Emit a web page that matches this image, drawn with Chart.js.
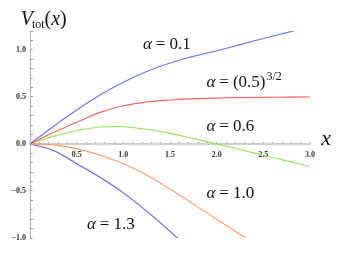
<!DOCTYPE html>
<html>
<head>
<meta charset="utf-8">
<script src="https://cdn.jsdelivr.net/npm/chart.js@4/dist/chart.umd.min.js"></script>
<style>
  html, body { margin: 0; padding: 0; background: #fff; }
  #wrap { width: 350px; height: 263px; position: relative; }
</style>
</head>
<body>
<div id="wrap"><canvas id="chart"></canvas></div>
<script>
  const xValues = [0, 0.25, 0.5, 0.75, 1, 1.25, 1.5, 1.75, 2, 2.25, 2.5, 2.75, 3];
  const alpha01 = [0, 0.185, 0.36, 0.52, 0.655, 0.77, 0.86, 0.93, 0.99, 1.055, 1.12, 1.183, 1.245];
  const alpha035 = [0, 0.12, 0.23, 0.335, 0.405, 0.445, 0.466, 0.479, 0.487, 0.492, 0.495, 0.497, 0.498];
  const alpha06 = [0, 0.08, 0.14, 0.18, 0.182, 0.155, 0.112, 0.058, 0, -0.06, -0.12, -0.18, -0.24];
  const alpha10 = [0, -0.01, -0.05, -0.12, -0.21, -0.33, -0.48, -0.64, -0.8, -0.96, -1.12, null, null];
  const alpha13 = [0, -0.07, -0.21, -0.355, -0.52, -0.715, -0.93, -1.16, null, null, null, null, null];

  const seriesNames = ['α = 0.1', 'α = (0.5)^{3/2}', 'α = 0.6', 'α = 1.0', 'α = 1.3'];
  const seriesColors = ['#6e6eff', '#ff5f5f', '#8ee84a', '#ff9a5c', '#6a52ee'];

  const xRange = [0, 3];
  const yRange = [-1, 1.2];

  function toPoints(values) {
    return values.map((v, i) => ({ x: xValues[i], y: v }));
  }

  function isHalf(v) {
    return Math.abs(v * 2 - Math.round(v * 2)) < 1e-6;
  }

  function fmt(v) {
    const s = Math.abs(v).toFixed(1);
    return v < -1e-9 ? '\u2212' + s : s;
  }

  const serif = "'Liberation Serif'";

  function drawRuns(ctx, x, y, runs) {
    runs.forEach((r) => {
      ctx.font = (r.italic ? 'italic ' : '') + r.size + 'px ' + serif;
      ctx.fillText(r.t, x, y + (r.dy || 0));
      x += ctx.measureText(r.t).width + (r.gap || 0);
    });
  }

  function alphaRuns(value) {
    return [
      { t: 'α', italic: true, size: 17, gap: 4 },
      { t: '=', size: 17, gap: 4 },
      { t: value, size: 17 },
    ];
  }

  const annotations = {
    id: 'annotations',
    afterDraw(chart) {
      const ctx = chart.ctx;
      const xs = chart.scales.x;
      const ys = chart.scales.y;
      const at = (x, y) => [xs.getPixelForValue(x), ys.getPixelForValue(y)];
      ctx.save();
      ctx.fillStyle = '#111';
      ctx.textBaseline = 'alphabetic';
      ctx.textAlign = 'left';

      let p = at(1.21, 1.01);
      drawRuns(ctx, p[0], p[1], alphaRuns('0.1'));

      p = at(1.89, 0.60);
      drawRuns(ctx, p[0], p[1], [
        { t: 'α', italic: true, size: 17, gap: 4 },
        { t: '=', size: 17, gap: 4 },
        { t: '(0.5)', size: 17, gap: 1 },
        { t: '3/2', size: 12, dy: -7 },
      ]);

      p = at(1.89, 0.14);
      drawRuns(ctx, p[0], p[1], alphaRuns('0.6'));

      p = at(1.89, -0.58);
      drawRuns(ctx, p[0], p[1], alphaRuns('1.0'));

      p = at(0.61, -0.9);
      drawRuns(ctx, p[0], p[1], alphaRuns('1.3'));

      // axis labels
      p = at(-0.1, 1.26);
      drawRuns(ctx, p[0], p[1], [
        { t: 'V', italic: true, size: 20, gap: -1 },
        { t: 'tot', size: 12, dy: 3 },
        { t: '(', size: 20 },
        { t: 'x', italic: true, size: 20 },
        { t: ')', size: 20 },
      ]);

      p = at(3.12, -0.016);
      drawRuns(ctx, p[0], p[1], [{ t: 'x', italic: true, size: 22 }]);
      ctx.restore();
    },
  };

  const tickFont = { family: serif, size: 8, weight: 'bold' };

  new Chart(document.getElementById('chart'), {
    type: 'line',
    data: {
      datasets: seriesNames.map((name, i) => ({
        label: name,
        data: toPoints([alpha01, alpha035, alpha06, alpha10, alpha13][i]),
        borderColor: seriesColors[i],
        borderWidth: 1.1,
        pointRadius: 0,
        fill: false,
        tension: 0.4,
      })),
    },
    options: {
      responsive: true,
      maintainAspectRatio: false,
      animation: false,
      layout: { padding: { left: 0, top: 31, right: 40, bottom: 25 } },
      plugins: {
        legend: { display: false },
        tooltip: { enabled: false },
      },
      scales: {
        x: {
          type: 'linear',
          min: xRange[0],
          max: xRange[1],
          position: { y: 0 },
          border: { color: '#cfcfcf', width: 2 },
          grid: { drawOnChartArea: false, tickLength: -3, color: '#9a9a9a', tickWidth: 1 },
          ticks: {
            stepSize: 0.1,
            autoSkip: false,
            maxRotation: 0,
            padding: 9,
            color: '#333',
            font: tickFont,
            callback: (v) => (isHalf(v) && Math.abs(v) > 1e-9 ? fmt(v) : ''),
          },
        },
        y: {
          type: 'linear',
          min: yRange[0],
          max: yRange[1],
          border: { color: '#b5b5b5', width: 1 },
          grid: { drawOnChartArea: false, tickLength: -3, color: '#9a9a9a', tickWidth: 1 },
          ticks: {
            stepSize: 0.1,
            autoSkip: false,
            padding: 7,
            color: '#333',
            font: tickFont,
            callback: (v) => (isHalf(v) ? fmt(v) : ''),
          },
          afterFit: (scale) => { scale.width = 30; },
        },
      },
    },
    plugins: [annotations],
  });
</script>
</body>
</html>
